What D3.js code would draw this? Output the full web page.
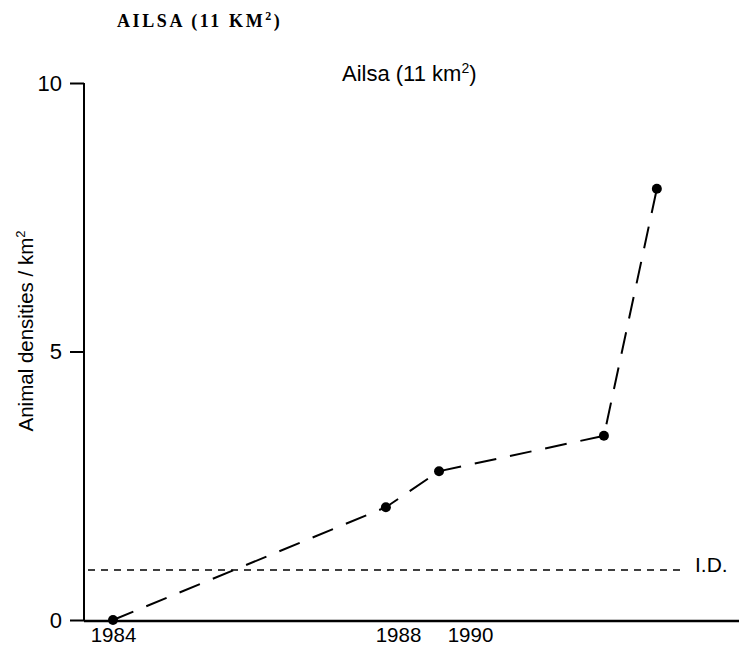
<!DOCTYPE html>
<html>
<head>
<meta charset="utf-8">
<script src="https://cdn.jsdelivr.net/npm/d3@7"></script>
<style>
  body { margin: 0; background: #fff; }
  svg { display: block; }
</style>
</head>
<body>
<div id="chart"></div>
<script>
// survey dates (as placed on the printed, non-uniform time axis) and densities
let years = [1984, 1987.83, 1989.14, 1993.72, 1995.19];
let densities = [0, 2.1, 2.77, 3.43, 8.03];
let idLevel = 0.93;
let yTicks = [0, 5, 10];
let xTickYears = [1984, 1988, 1990];

let width = 739, height = 647;

let svg = d3.select('#chart')
    .append('svg')
    .attr('width', width)
    .attr('height', height)
    .style('font-family', 'Liberation Sans, Arial, sans-serif');

// axis printed with uneven spacing between the year labels
let x = d3.scaleLinear()
    .domain([1984, 1988, 1990])
    .range([113, 398, 470]);

let y = d3.scaleLinear()
    .domain([0, 10])
    .range([620, 83]);

// top caption
svg.append('text')
    .attr('x', 117)
    .attr('y', 27)
    .style('font-family', 'Liberation Serif, Times New Roman, serif')
    .style('font-size', '18px')
    .style('font-weight', 'bold')
    .style('letter-spacing', '2.6px')
    .html('AILSA (11 KM<tspan dy="-7" font-size="12px">2</tspan><tspan dy="7">)</tspan>');

// chart title
svg.append('text')
    .attr('x', 342)
    .attr('y', 81)
    .style('font-size', '22px')
    .html('Ailsa (11 km<tspan dy="-8" font-size="14px">2</tspan><tspan dy="8">)</tspan>');

// y axis
let yAxis = d3.axisLeft(y)
    .tickValues(yTicks)
    .tickSize(14)
    .tickPadding(8)
    .tickFormat(d3.format('d'));
let gy = svg.append('g')
    .attr('transform', 'translate(84,0)')
    .call(yAxis);
gy.select('.domain').remove();
gy.append('line')
    .attr('x1', 0).attr('x2', 0)
    .attr('y1', y(10)).attr('y2', 621)
    .attr('stroke', '#000')
    .attr('stroke-width', 2);
gy.selectAll('.tick line').attr('stroke-width', 2);
gy.selectAll('.tick text')
    .style('font-size', '22px')
    .attr('fill', '#000');

// x axis (labels only, no ticks)
let xAxis = d3.axisBottom(x)
    .tickValues(xTickYears)
    .tickSize(0)
    .tickPadding(6)
    .tickFormat(d3.format('d'));
let gx = svg.append('g')
    .attr('transform', 'translate(0,621)')
    .call(xAxis);
gx.select('.domain').remove();
gx.append('line')
    .attr('x1', 84).attr('x2', width)
    .attr('y1', 0).attr('y2', 0)
    .attr('stroke', '#000')
    .attr('stroke-width', 2.5);
gx.selectAll('.tick text')
    .style('font-size', '20.5px')
    .attr('fill', '#000');

// y label
svg.append('text')
    .attr('transform', 'translate(33,' + 331 + ') rotate(-90)')
    .attr('text-anchor', 'middle')
    .style('font-size', '20.5px')
    .html('Animal densities / km<tspan dy="-8" font-size="13px">2</tspan>');

// I.D. reference line
svg.append('line')
    .attr('x1', 88)
    .attr('x2', 680)
    .attr('y1', y(idLevel))
    .attr('y2', y(idLevel))
    .attr('stroke', '#000')
    .attr('stroke-width', 1.4)
    .attr('stroke-dasharray', '7,6');
svg.append('text')
    .attr('x', 695)
    .attr('y', y(idLevel) + 2)
    .style('font-size', '21px')
    .text('I.D.');

// density series
let line = d3.line()
    .x(function (d, i) { return x(years[i]); })
    .y(function (d) { return y(d); });

svg.append('path')
    .attr('d', line(densities))
    .style('fill', 'none')
    .attr('stroke', '#000')
    .attr('stroke-width', 2)
    .attr('stroke-dasharray', '22,14');

densities.forEach(function (d, i) {
    svg.append('circle')
        .attr('cx', x(years[i]))
        .attr('cy', y(d))
        .attr('r', 5)
        .attr('fill', '#000');
});
</script>
</body>
</html>
